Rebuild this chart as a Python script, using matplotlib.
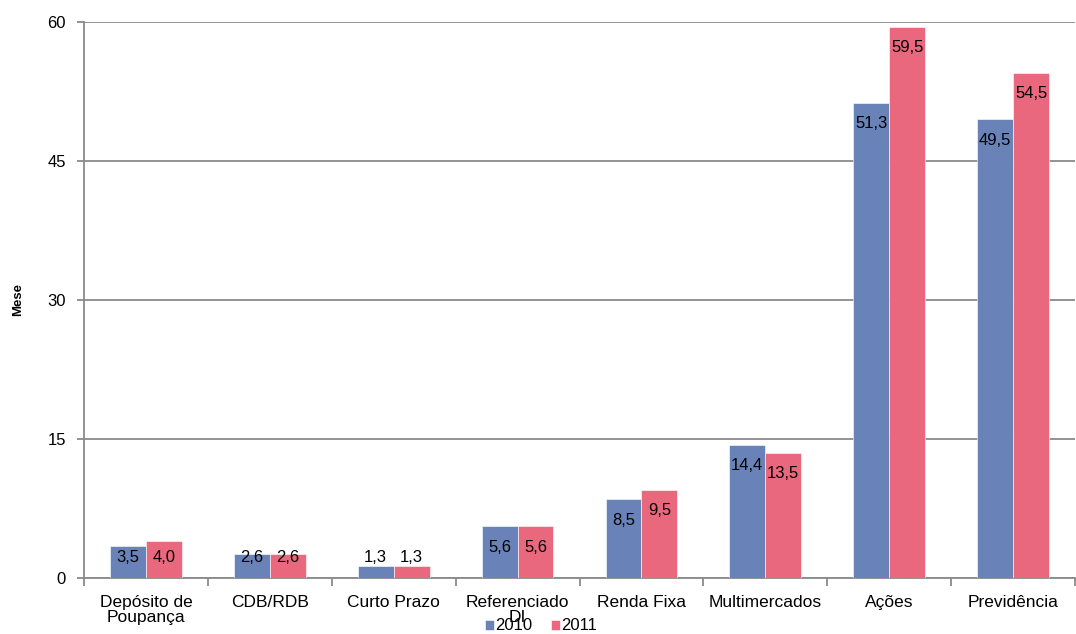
import matplotlib
matplotlib.use("Agg")
import matplotlib.pyplot as plt
import numpy as np

categories = ["Depósito de\nPoupança", "CDB/RDB", "Curto Prazo", "Referenciado\nDI",
              "Renda Fixa", "Multimercados", "Ações", "Previdência"]
series_names = ["2010", "2011"]
values_2010 = [3.5, 2.6, 1.3, 5.6, 8.5, 14.4, 51.3, 49.5]
values_2011 = [4.0, 2.6, 1.3, 5.6, 9.5, 13.5, 59.5, 54.5]
y_ticks = [0, 15, 30, 45, 60]

colors = ["#6983B8", "#EA687E"]
plt.rcParams['font.family'] = ['Liberation Sans', 'DejaVu Sans']

fig = plt.figure(figsize=(10.76, 6.34), dpi=100)
ax = fig.add_axes([84 / 1076, 56 / 634, 991 / 1076, 556 / 634])

x = np.arange(len(categories))
w = 0.29
series = [values_2010, values_2011]
containers = []
for i, (vals, name) in enumerate(zip(series, series_names)):
    bars = ax.bar(x + (i - 0.5) * w, vals, width=w, color=colors[i], label=name,
                  edgecolor="white", linewidth=0.4, zorder=3)
    containers.append(bars)

ax.set_xlim(-0.5, len(categories) - 0.5)
ax.set_ylim(0, 60)
px_per_unit = 556 / 60.0

# value labels near the inside end of each bar, kept clear of the baseline
for vals, bars in zip(series, containers):
    for b, v in zip(bars, vals):
        h = v * px_per_unit
        off = -min(21.0, h - 20.0)
        ax.annotate(f"{v:.1f}".replace(".", ","),
                    (b.get_x() + b.get_width() / 2, v),
                    xytext=(0, off * 0.72), textcoords="offset points",
                    ha="center", va="center", fontsize=12, color="black", zorder=4)

ax.set_yticks(y_ticks)
ax.yaxis.grid(True, color="#8A8A8A", linewidth=1.3, zorder=0)
ax.set_axisbelow(True)
ax.tick_params(axis="y", length=5, color="#8A8A8A", width=1.3, labelsize=12, pad=8)

ax.set_xticks(x)
ax.set_xticklabels(categories, fontsize=12.5, linespacing=1.0)
ax.set_xticks(np.arange(-0.5, len(categories)), minor=True)
ax.tick_params(axis="x", which="major", length=0, pad=12)
ax.tick_params(axis="x", which="minor", length=6, color="#8A8A8A", width=1.3)

for s in ["top", "right"]:
    ax.spines[s].set_visible(False)
for s in ["left", "bottom"]:
    ax.spines[s].set_color("#8A8A8A")
    ax.spines[s].set_linewidth(1.3)

ax.set_ylabel("Mese", fontsize=9.5, fontweight="bold", labelpad=17)

ax.legend(loc="center", bbox_to_anchor=(541 / 1076, 8 / 634), bbox_transform=fig.transFigure,
          ncol=2, frameon=False, fontsize=12, handlelength=0.55, handleheight=0.55,
          handletextpad=0.1, columnspacing=1.1, borderpad=0)

fig.savefig("out.png", dpi=100)
